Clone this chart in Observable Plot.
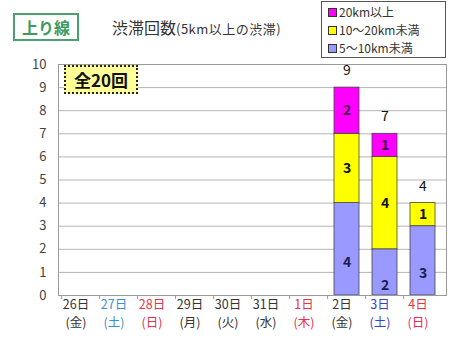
<!DOCTYPE html>
<html><head><meta charset="utf-8">
<script src="https://cdn.jsdelivr.net/npm/d3@7"></script>
<script src="https://cdn.jsdelivr.net/npm/@observablehq/plot@0.6"></script>
<style>
body{margin:0;background:#fff;font-family:"Noto Sans CJK JP","Noto Sans",sans-serif;}
#wrap{position:relative;width:450px;height:339px;overflow:hidden;}
#wrap svg{position:absolute;left:0;top:0;}
.badge{position:absolute;left:13px;top:13px;width:66px;height:28px;border:2px solid #4aa070;box-sizing:border-box;color:#3c9a5c;font-weight:bold;font-size:16px;line-height:24px;text-align:center;background:#fff;}
.title{position:absolute;left:112px;top:15px;font-size:16px;color:#333;white-space:nowrap;}
.title small{font-size:13px;letter-spacing:0.5px;}
.legend{position:absolute;left:321px;top:1px;width:125px;height:57px;border:1px solid #555;box-sizing:border-box;background:#fff;font-size:12px;color:#333;padding:1px 0 0 6px;}
.legend div{height:18px;line-height:18px;white-space:nowrap;}
.legend span{display:inline-block;width:7px;height:7px;border:1px solid #333;margin-right:2px;vertical-align:0px;}
.total{position:absolute;left:64px;top:65px;width:74px;height:29px;background:#ffff99;border:2px dotted #222;box-sizing:border-box;font-weight:bold;font-size:17px;line-height:25px;text-align:center;color:#111;}
</style></head><body><div id="wrap"></div>
<script>
// ---- data ----
const dates = ["26日","27日","28日","29日","30日","31日","1日","2日","3日","4日"];
const weekdays = ["金","土","日","月","火","水","木","金","土","日"];
const seriesNames = ["5〜10km未満","10〜20km未満","20km以上"];
const s5to10  = [0,0,0,0,0,0,0,4,2,3];
const s10to20 = [0,0,0,0,0,0,0,3,4,1];
const s20plus = [0,0,0,0,0,0,0,2,1,0];
const yTicks = [0,1,2,3,4,5,6,7,8,9,10];
const chartTitle = "渋滞回数";
const chartSubtitle = "(5km以上の渋滞)";
const badgeText = "上り線";
const totalText = "全20回";

// ---- styles ----
const seriesColors = ["#9999ff","#ffff00","#ff00ff"];
const labelInk = ["#1c2050","#111111","#4a0a4a"];
const dateColors = {"27日":"#3a8fd6","28日":"#e8334a","1日":"#e8334a","3日":"#3c3cd0","4日":"#e8334a"};

const seriesValues = [s5to10, s10to20, s20plus];
const rows = [];
dates.forEach((d, di) => {
  let base = 0;
  seriesNames.forEach((s, si) => {
    const v = seriesValues[si][di];
    rows.push({date: d, series: s, si, value: v, y1: base, y2: base + v, mid: base + v / 2});
    base += v;
  });
});
const totals = dates.map((d, i) => ({date: d, total: s5to10[i] + s10to20[i] + s20plus[i]})).filter(d => d.total > 0);
const nz = rows.filter(r => r.value > 0);
const axisRows = dates.map((d, i) => ({date: d, wd: "(" + weekdays[i] + ")"}));
const dateFill = r => dateColors[r.date] || "#333";

const chart = Plot.plot({
  width: 450, height: 339,
  marginTop: 64, marginBottom: 44, marginLeft: 58, marginRight: 4,
  style: {fontFamily: '"Noto Sans CJK JP","Noto Sans",sans-serif', background: "transparent"},
  x: {domain: dates, paddingInner: 0.33, paddingOuter: 0.165, label: null},
  y: {domain: [0, 10], label: null},
  color: {domain: seriesNames, range: seriesColors},
  marks: [
    Plot.ruleY(yTicks.filter(t => t > 0), {stroke: "#b5b5b5", strokeWidth: 1}),
    Plot.rectY(nz, {x: "date", y1: "y1", y2: "y2", fill: "series", stroke: "#444", strokeWidth: 0.8}),
    Plot.text(nz.filter(r => r.si > 0), {x: "date", y: "mid", text: "value", fill: r => labelInk[r.si], fontSize: 14, fontWeight: "bold"}),
    Plot.text(nz.filter(r => r.si === 0), {x: "date", y: "mid", text: "value", dy: 13, fill: labelInk[0], fontSize: 14, fontWeight: "bold"}),
    Plot.text(totals, {x: "date", y: "total", text: "total", dy: -17, fill: "#111", fontSize: 14}),
    Plot.frame({stroke: "#999"}),
    Plot.axisY({ticks: yTicks, tickSize: 0, tickPadding: 12, fontSize: 13, fill: "#444", tickFormat: d => String(d)}),
    Plot.axisX({tickSize: 4, tickFormat: () => "", dx: -19.4, stroke: "#999"}),
    Plot.text(axisRows, {x: "date", text: "date", frameAnchor: "bottom", lineAnchor: "top", dy: 5, dx: -5, fontSize: 12.5, fill: dateFill}),
    Plot.text(axisRows, {x: "date", text: "wd", frameAnchor: "bottom", lineAnchor: "top", dy: 23, dx: -5, fontSize: 12.5, fill: dateFill})
  ]
});
const wrap = document.getElementById("wrap");
wrap.appendChild(chart);
const add = (cls, html) => { const e = document.createElement("div"); e.className = cls; e.innerHTML = html; wrap.appendChild(e); };
add("badge", badgeText);
add("title", chartTitle + "<small>" + chartSubtitle + "</small>");
add("legend", [2,1,0].map(i => `<div><span style="background:${seriesColors[i]}"></span>${seriesNames[i]}</div>`).join(""));
add("total", totalText);
</script></body></html>
